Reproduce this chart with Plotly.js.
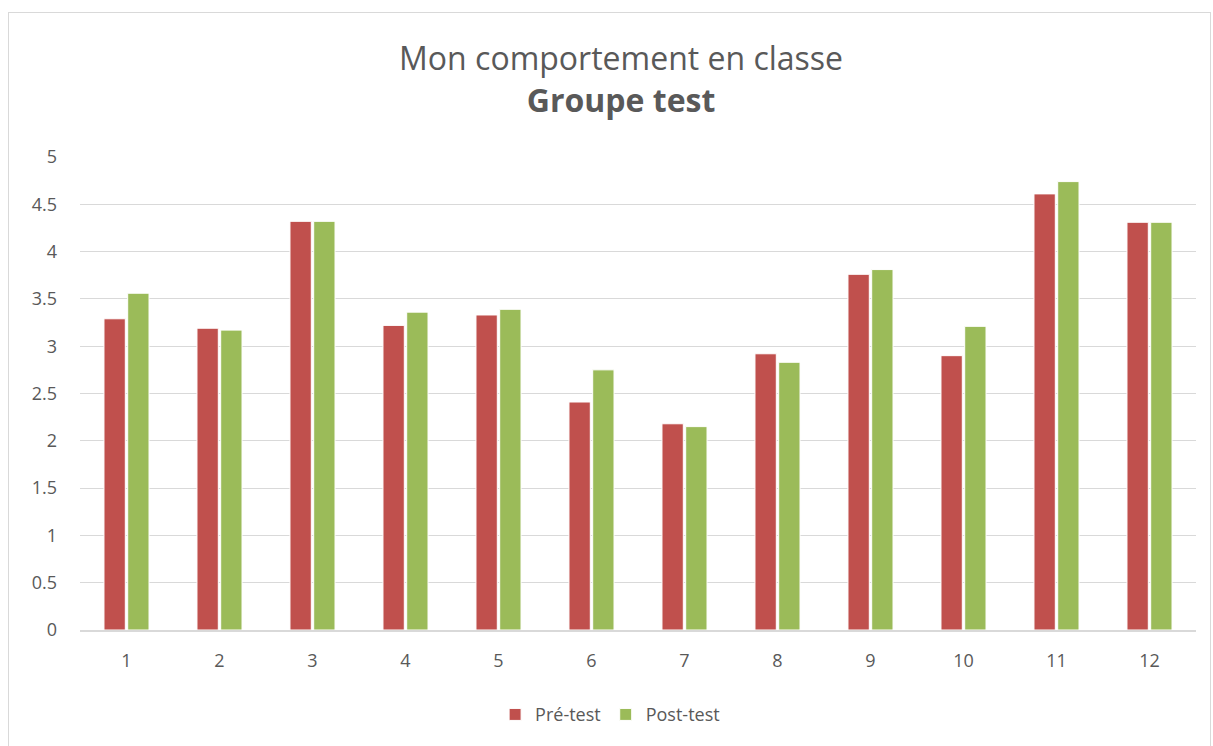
<!DOCTYPE html>
<html>
<head>
<meta charset="utf-8">
<script src="https://cdn.plot.ly/plotly-3.0.1.min.js"></script>
<style>
  html, body { margin: 0; padding: 0; background: #fff; }
  #frame { position: absolute; left: 8px; top: 12px; width: 1203px; height: 740px; border: 1px solid #d9d9d9; box-sizing: border-box; }
  #chart { position: absolute; left: 0; top: 0; width: 1213px; height: 746px; }
</style>
</head>
<body>
<div id="frame"></div>
<div id="chart"></div>
<script>
const categories = ["1","2","3","4","5","6","7","8","9","10","11","12"];
const preTest  = [3.29, 3.19, 4.32, 3.22, 3.33, 2.41, 2.18, 2.92, 3.76, 2.90, 4.61, 4.31];
const postTest = [3.56, 3.17, 4.32, 3.36, 3.39, 2.75, 2.15, 2.83, 3.81, 3.21, 4.74, 4.31];
const yTicks = [0, 0.5, 1, 1.5, 2, 2.5, 3, 3.5, 4, 4.5, 5];

const fontFam = "'Open Sans', 'Noto Sans', sans-serif";
const textColor = "#595959";

const traces = [
  { type: "bar", name: "Pré-test", x: categories, y: preTest,
    marker: { color: "#c0504d", line: { color: "#ffffff", width: 1 } } },
  { type: "bar", name: "Post-test", x: categories, y: postTest,
    marker: { color: "#9bbb59", line: { color: "#ffffff", width: 1 } } }
];

const layout = {
  width: 1213, height: 746,
  paper_bgcolor: "rgba(0,0,0,0)", plot_bgcolor: "rgba(0,0,0,0)",
  margin: { l: 80, r: 17, t: 157, b: 116 },
  barmode: "group", bargap: 0.49, bargroupgap: 0.1,
  font: { family: fontFam, color: textColor, size: 18 },
  title: {
    text: "Mon comportement en classe<br><b>Groupe test</b>",
    font: { family: fontFam, size: 32, color: textColor },
    x: 0.512, xanchor: "center", xref: "container",
    y: 0.906, yanchor: "middle", yref: "container"
  },
  xaxis: {
    type: "category", tickvals: categories, ticktext: categories,
    showline: true, linecolor: "#d9d9d9", linewidth: 1.5,
    ticks: "", tickfont: { size: 18, color: textColor }, showgrid: false,
    ticklabelstandoff: 14
  },
  yaxis: {
    range: [0, 5], tickvals: yTicks, ticktext: yTicks.map(String),
    gridcolor: "#d9d9d9", gridwidth: 1, zeroline: false,
    ticks: "", tickfont: { size: 18, color: textColor }, ticklabelstandoff: 22
  },
  legend: {
    orientation: "h", x: 0.475, xanchor: "center", y: -0.14, yanchor: "top",
    font: { size: 18, color: textColor }, itemwidth: 30
  },
  showlegend: true
};

Plotly.newPlot("chart", traces, layout, { displayModeBar: false, staticPlot: true });
</script>
</body>
</html>
